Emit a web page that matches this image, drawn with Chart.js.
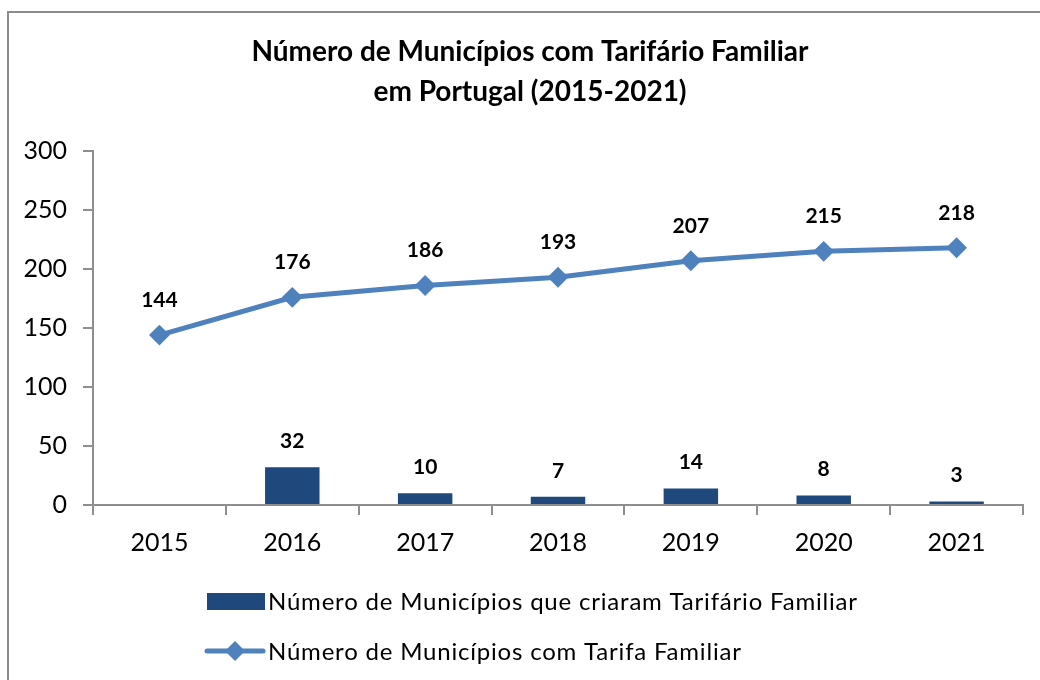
<!DOCTYPE html>
<html><head><meta charset="utf-8">
<script src="https://cdn.jsdelivr.net/npm/chart.js@4.4.1/dist/chart.umd.min.js"></script>
<style>html,body{margin:0;padding:0;background:#fff;overflow:hidden}#wrap{width:1040px;height:680px;position:relative}</style>
</head><body><div id="wrap"><canvas id="c" width="1040" height="680"></canvas></div>
<script>
const years = ['2015', '2016', '2017', '2018', '2019', '2020', '2021'];
const newMunicipalities = [null, 32, 10, 7, 14, 8, 3];
const totalMunicipalities = [144, 176, 186, 193, 207, 215, 218];
const yTicks = [0, 50, 100, 150, 200, 250, 300];
const seriesNames = ['Número de Municípios que criaram Tarifário Familiar', 'Número de Municípios com Tarifa Familiar'];
const titleLines = ['Número de Municípios com Tarifário Familiar', 'em Portugal (2015-2021)'];

const BAR_COLOR = '#1F497D';
const LINE_COLOR = '#4F81BD';
const AXIS_COLOR = '#8E8E8E';
const FONT = 'Lato, "Open Sans", sans-serif';

const framePlugin = {
  id: 'frame',
  afterLayout(chart) {
    // centre the title over the framed area rather than the whole canvas
    if (chart.titleBlock) chart.titleBlock.left = 37;
  },
  beforeDraw(chart) {
    const ctx = chart.ctx;
    ctx.save();
    ctx.fillStyle = '#fff';
    ctx.fillRect(0, 0, chart.width, chart.height);
    ctx.strokeStyle = '#8C8C8C';
    ctx.lineWidth = 2;
    ctx.strokeRect(8, 12, chart.width + 20, chart.height + 20);
    ctx.restore();
  }
};

const labelPlugin = {
  id: 'valueLabels',
  afterDatasetsDraw(chart) {
    const ctx = chart.ctx;
    ctx.save();
    ctx.font = 'bold 21px ' + FONT;
    ctx.fillStyle = '#000';
    ctx.textAlign = 'center';
    ctx.textBaseline = 'middle';
    chart.data.datasets.forEach((ds, i) => {
      const meta = chart.getDatasetMeta(i);
      const off = ds.type === 'line' ? 35 : 26;
      meta.data.forEach((el, j) => {
        const v = ds.data[j];
        if (v === null || v === undefined) return;
        ctx.fillText(String(v), el.x, el.y - off);
      });
    });
    ctx.restore();
  }
};

const legendPlugin = {
  id: 'customLegend',
  afterDraw(chart) {
    const ctx = chart.ctx;
    ctx.save();
    ctx.fillStyle = BAR_COLOR;
    ctx.fillRect(207, 593, 58, 17);
    ctx.strokeStyle = LINE_COLOR;
    ctx.lineWidth = 5;
    ctx.lineCap = 'round';
    ctx.beginPath();
    ctx.moveTo(207, 651);
    ctx.lineTo(263, 651);
    ctx.stroke();
    ctx.fillStyle = LINE_COLOR;
    ctx.beginPath();
    ctx.moveTo(235, 641); ctx.lineTo(245, 651); ctx.lineTo(235, 661); ctx.lineTo(225, 651); ctx.closePath();
    ctx.fill();
    ctx.fillStyle = '#000';
    ctx.font = '24px ' + FONT;
    ctx.textAlign = 'left';
    ctx.textBaseline = 'middle';
    ctx.letterSpacing = '0.8px';
    ctx.fillText(seriesNames[0], 268, 602);
    ctx.fillText(seriesNames[1], 268, 652);
    ctx.restore();
  }
};

new Chart(document.getElementById('c'), {
  data: {
    labels: years,
    datasets: [
      {
        type: 'line',
        label: seriesNames[1],
        data: totalMunicipalities,
        borderColor: LINE_COLOR,
        backgroundColor: LINE_COLOR,
        borderWidth: 5,
        pointStyle: 'rectRot',
        pointRadius: 9,
        pointBorderWidth: 2,
        pointBackgroundColor: LINE_COLOR,
        pointBorderColor: LINE_COLOR,
        tension: 0,
        order: 0
      },
      {
        type: 'bar',
        label: seriesNames[0],
        data: newMunicipalities,
        backgroundColor: BAR_COLOR,
        barPercentage: 0.41,
        categoryPercentage: 1,
        order: 1
      }
    ]
  },
  options: {
    responsive: false,
    animation: false,
    devicePixelRatio: 1,
    layout: { padding: { left: 0, right: 17, top: 0, bottom: 115 } },
    plugins: {
      legend: { display: false },
      tooltip: { enabled: false },
      title: {
        display: true,
        text: titleLines,
        color: '#000',
        font: { family: FONT, size: 28, weight: 'bold', lineHeight: 40 / 28 },
        padding: { top: 32, bottom: 39 }
      }
    },
    scales: {
      x: {
        type: 'category',
        offset: true,
        grid: { display: true, offset: true, drawOnChartArea: false, drawTicks: true, tickLength: 10, color: AXIS_COLOR, lineWidth: 2 },
        border: { display: true, color: AXIS_COLOR, width: 2 },
        ticks: { color: '#000', font: { family: FONT, size: 25 }, padding: 13, maxRotation: 0 },
        afterFit(scale) { scale.height = 60; }
      },
      y: {
        type: 'linear',
        min: 0,
        max: 300,
        afterBuildTicks(scale) { scale.ticks = yTicks.map(v => ({ value: v })); },
        grid: { display: true, drawOnChartArea: false, drawTicks: true, tickLength: 10, color: AXIS_COLOR, lineWidth: 2 },
        border: { display: true, color: AXIS_COLOR, width: 2 },
        ticks: { color: '#000', font: { family: FONT, size: 25 }, padding: 16 },
        afterFit(scale) { scale.width = 93; }
      }
    }
  },
  plugins: [framePlugin, labelPlugin, legendPlugin]
});
</script>
</body></html>
